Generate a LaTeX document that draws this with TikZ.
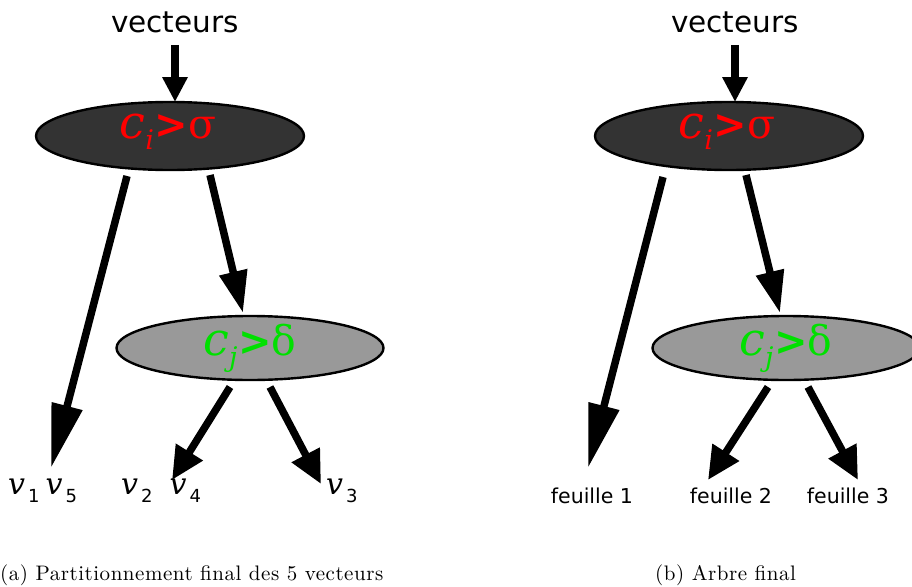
\documentclass[tikz,border=0pt]{standalone}
\usepackage{fontspec}
\usetikzlibrary{arrows.meta,shapes.geometric}
\newfontfamily\dvs{DejaVu Sans}
\newfontfamily\dvserif{DejaVu Serif}
\newfontfamily\dvsi{DejaVu Serif Italic}
\newfontfamily\capfont{lmroman10-regular}[Extension=.otf,LetterSpace=2.5]
\definecolor{darkell}{HTML}{333333}
\definecolor{grayell}{HTML}{999999}
\definecolor{brgreen}{HTML}{00E000}
\tikzset{
  ell/.style={draw=black, line width=2.4pt, ellipse, inner sep=0pt},
  arr/.style 2 args={line width=7.5pt, -{Triangle[length=#1pt,width=#2pt]}},
  toplabel/.style={font=\dvs\fontsize{29.5}{32}\selectfont, inner sep=0pt},
  leaf/.style={font=\dvs\fontsize{20.5}{24}\selectfont, inner sep=0pt},
  vlab/.style={inner sep=0pt, anchor=base west},
  captiontext/.style={font=\capfont\fontsize{21}{24}\selectfont, inner sep=0pt, anchor=base west}
}
\newcommand{\vv}[1]{{\dvsi\fontsize{30}{32}\selectfont v}\kern3pt\raisebox{-8pt}{\dvs\fontsize{18}{20}\selectfont #1}}
\newcommand{\condlabel}[3]{{\color{#1}{\dvsi\fontsize{46}{48}\selectfont c}\raisebox{-11pt}{\dvsi\fontsize{27}{28}\selectfont #2}{\dvs\bfseries\fontsize{40}{44}\selectfont\kern1pt>}{\dvserif\fontsize{41}{44}\selectfont #3}}}
\begin{document}
\begin{tikzpicture}[x=1pt,y=-1pt]
\useasboundingbox (0,0) rectangle (912,586);
% ---- left tree ----
\node[toplabel] (vecA) at (175,22) {vecteurs};
\node[ell, fill=darkell, minimum width=268pt, minimum height=68pt] (ciA) at (170,136) {};
\node[inner sep=0pt] (ciAt) at (168,132) {\condlabel{red}{i}{σ}};
\node[ell, fill=grayell, minimum width=267pt, minimum height=64pt] (cjA) at (250,348) {};
\node[inner sep=0pt] (cjAt) at (250,348) {\condlabel{brgreen}{j}{δ}};
\coordinate (a0s) at (175,45); \coordinate (a0e) at (175,102);
\coordinate (a1s) at (127,176); \coordinate (a1e) at (51,468);
\coordinate (a2s) at (210,175); \coordinate (a2e) at (243,313);
\coordinate (a3s) at (230,387); \coordinate (a3e) at (172,480);
\coordinate (a4s) at (270,387); \coordinate (a4e) at (321,484);
\draw[arr={25}{24}] (a0s) -- (a0e);
\draw[arr={64}{30}] (a1s) -- (a1e);
\draw[arr={42}{27}] (a2s) -- (a2e);
\draw[arr={33}{30}] (a3s) -- (a3e);
\draw[arr={33}{30}] (a4s) -- (a4e);
\node[vlab] (v15) at (8,494) {\vv{1}\kern6pt\vv{5}};
\node[vlab] (v24) at (121,494) {\vv{2}\kern17pt\vv{4}};
\node[vlab] (v3) at (326,494) {\vv{3}};
% ---- right tree ----
\node[toplabel] (vecB) at (735,22) {vecteurs};
\node[ell, fill=darkell, minimum width=268pt, minimum height=68pt] (ciB) at (729,136) {};
\node[inner sep=0pt] (ciBt) at (727,132) {\condlabel{red}{i}{σ}};
\node[ell, fill=grayell, minimum width=267pt, minimum height=64pt] (cjB) at (786,348) {};
\node[inner sep=0pt] (cjBt) at (786,348) {\condlabel{brgreen}{j}{δ}};
\coordinate (b0s) at (735,45); \coordinate (b0e) at (735,102);
\coordinate (b1s) at (663,177); \coordinate (b1e) at (588,468);
\coordinate (b2s) at (746,175); \coordinate (b2e) at (780,313);
\coordinate (b3s) at (768,387); \coordinate (b3e) at (708,480);
\coordinate (b4s) at (808,387); \coordinate (b4e) at (858,480);
\draw[arr={25}{24}] (b0s) -- (b0e);
\draw[arr={64}{30}] (b1s) -- (b1e);
\draw[arr={42}{27}] (b2s) -- (b2e);
\draw[arr={33}{30}] (b3s) -- (b3e);
\draw[arr={33}{30}] (b4s) -- (b4e);
\node[leaf] (f1) at (592,496) {feuille 1};
\node[leaf] (f2) at (731,496) {feuille 2};
\node[leaf] (f3) at (848,496) {feuille 3};
% ---- captions ----
\node[captiontext] (capa) at (0,580) {(a) Partitionnement final des 5 vecteurs};
\node[captiontext] (capb) at (655,580) {(b) Arbre final};
\end{tikzpicture}
\end{document}
